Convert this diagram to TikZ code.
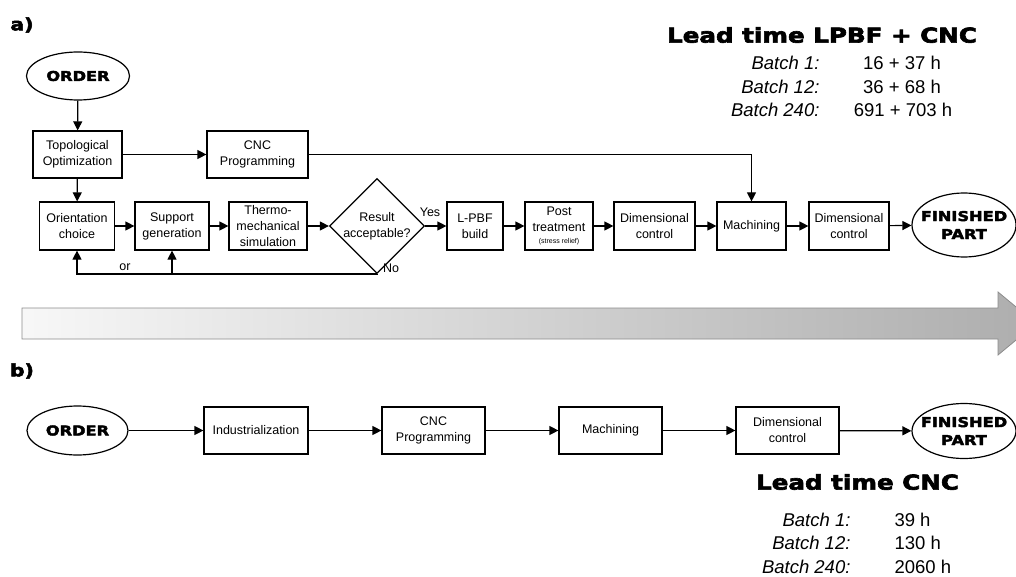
\documentclass[tikz,border=0pt]{standalone}
\usepackage{fontspec}
\setmainfont{Liberation Sans}
\newfontfamily\heavy[FakeStretch=1.2,FakeBold=3]{DejaVu Sans Bold}
\usetikzlibrary{shapes,arrows.meta}
\tikzstyle{startstop} = [ellipse, draw=black, line width=1.2pt, inner sep=0pt, align=center, font=\heavy\fontsize{13.5}{18}\selectfont]
\tikzstyle{process} = [rectangle, draw=black, line width=1.2pt, minimum height=47pt, inner sep=1pt, align=center, font=\fontsize{12.5}{16}\selectfont]
\tikzstyle{decision} = [diamond, draw=black, line width=1.2pt, minimum width=95pt, minimum height=70pt, inner sep=0pt, align=center, font=\fontsize{12.5}{16}\selectfont]
\tikzstyle{arrow} = [line width=1.2pt, -{Triangle[length=9pt,width=9pt]}]
\tikzstyle{line} = [line width=1.2pt]
\tikzstyle{heading} = [font=\heavy\fontsize{20.5}{24}\selectfont]
\tikzstyle{batch} = [anchor=east, font=\itshape\fontsize{18.5}{22}\selectfont]
\tikzstyle{hours} = [font=\fontsize{18.5}{22}\selectfont]
\tikzstyle{tag} = [font=\fontsize{12.5}{15}\selectfont, inner sep=0pt]

\begin{document}
\begin{tikzpicture}[x=1pt,y=-1pt]
\clip (0,0) rectangle (1016,577);

% a) L-PBF + CNC route
\node (lbla) [font=\heavy\fontsize{17}{18}\selectfont] at (22,25) {a)};
\node (order) [startstop, minimum width=103pt, minimum height=48pt] at (78,76) {ORDER};
\node (topo) [process, minimum width=89pt] at (77.5,154.5) {Topological\\Optimization};
\node (cnc) [process, minimum width=101pt] at (257.5,154.5) {CNC\\Programming};
\node (orient) [process, minimum width=75pt, minimum height=48pt] at (77,226) {Orientation\\choice};
\node (support) [process, minimum width=74pt, minimum height=48pt] at (172,226) {Support\\generation};
\node (thermo) [process, minimum width=78pt, minimum height=48pt] at (268,226) {Thermo-\\mechanical\\simulation};
\node (result) [decision] at (377,226) {Result\\acceptable?};
\node (lpbf) [process, minimum width=56pt, minimum height=48pt] at (475,226) {L-PBF\\build};
\node (post) [process, minimum width=68pt, minimum height=48pt] at (559,226) {Post\\treatment\\[-4pt]{\fontsize{7}{8}\selectfont (stress relief)}};
\node (dim1) [process, minimum width=81pt, minimum height=48pt] at (654.5,226) {Dimensional\\control};
\node (mach1) [process, minimum width=69pt, minimum height=48pt] at (751.5,226) {Machining};
\node (dim2) [process, minimum width=80pt, minimum height=48pt] at (849,226) {Dimensional\\control};
\node (fin1) [startstop, inner xsep=-7pt, minimum width=104pt, minimum height=64pt] at (964,225) {FINISHED\\PART};

\node (yes) [tag] at (430,212) {Yes};
\node (no) [tag] at (391,268) {No};
\node (or) [tag] at (125,267) {or};
\coordinate (fb) at (377,274);
\coordinate (fbs) at (172,274);

\draw [arrow] (order) -- (topo);
\draw [arrow] (topo) -- (cnc);
\draw [arrow] (topo) -- (orient);
\draw [arrow] (orient) -- (support);
\draw [arrow] (support) -- (thermo);
\draw [arrow] (thermo) -- (result);
\draw [arrow] (result) -- (lpbf);
\draw [arrow] (lpbf) -- (post);
\draw [arrow] (post) -- (dim1);
\draw [arrow] (dim1) -- (mach1);
\draw [arrow] (mach1) -- (dim2);
\draw [arrow] (dim2) -- (fin1);
\draw [arrow] (cnc.east) -| (mach1.north);
\draw [line] (result.south) -- (fb);
\draw [arrow] (fb) -| (orient.south);
\draw [arrow] (fbs) -- (support.south);

\node (titlea) [heading] at (822,35) {Lead time LPBF + CNC};
\node (ba1) [batch] at (823,63) {Batch 1:};
\node (ba2) [batch] at (823,87) {Batch 12:};
\node (ba3) [batch] at (823,110) {Batch 240:};
\node (ha1) [hours] at (902,63) {16 + 37 h};
\node (ha2) [hours] at (902,87) {36 + 68 h};
\node (ha3) [hours] at (903,110) {691 + 703 h};

% time axis
\path [draw=black!45, line width=0.8pt, left color=black!3, right color=black!32]
  (22,308) -- (998,308) -- (998,292) -- (1036,323.5) -- (998,355) -- (998,339) -- (22,339) -- cycle;

% b) CNC route
\node (lblb) [font=\heavy\fontsize{17}{18}\selectfont] at (22,371) {b)};
\node (order2) [startstop, minimum width=101pt, minimum height=49pt] at (77.5,430.5) {ORDER};
\node (indus) [process, minimum width=104pt] at (256,430.5) {Industrialization};
\node (cnc2) [process, minimum width=103pt] at (433.5,430.5) {CNC\\Programming};
\node (mach2) [process, minimum width=103pt] at (610.5,430.5) {Machining};
\node (dim3) [process, minimum width=103pt] at (787.5,430.5) {Dimensional\\control};
\node (fin2) [startstop, inner xsep=-7pt, minimum width=104pt, minimum height=55pt] at (964,431) {FINISHED\\PART};

\draw [arrow] (order2) -- (indus);
\draw [arrow] (indus) -- (cnc2);
\draw [arrow] (cnc2) -- (mach2);
\draw [arrow] (mach2) -- (dim3);
\draw [arrow] (dim3) -- (fin2);

\node (titleb) [heading] at (857.5,482) {Lead time CNC};
\node (bb1) [batch] at (854,520) {Batch 1:};
\node (bb2) [batch] at (854,543) {Batch 12:};
\node (bb3) [batch] at (854,567) {Batch 240:};
\node (hb1) [hours, anchor=west] at (891,520) {39 h};
\node (hb2) [hours, anchor=west] at (891,543) {130 h};
\node (hb3) [hours, anchor=west] at (891,567) {2060 h};
\end{tikzpicture}
\end{document}
